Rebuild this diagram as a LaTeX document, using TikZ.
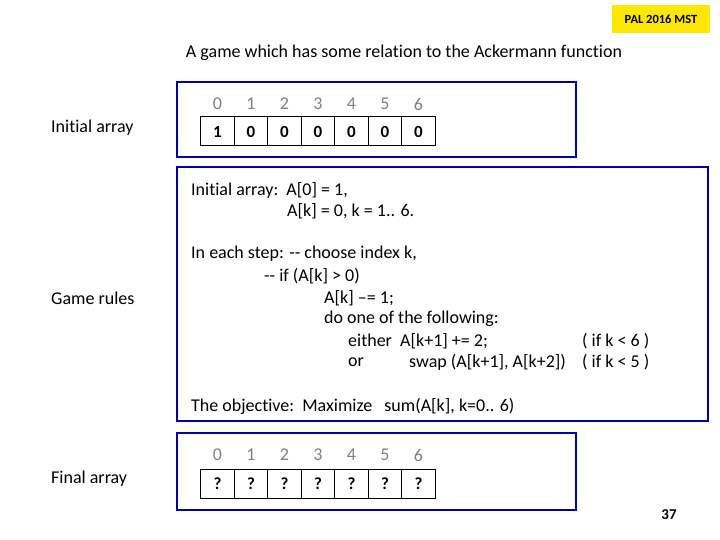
\documentclass[tikz,border=0pt]{standalone}
\usepackage{fontspec}
\setmainfont{Carlito}[Ligatures=NoCommon]
\begin{document}
\begin{tikzpicture}[x=1pt,y=-1pt,
  txt/.style={anchor=west,inner sep=0,yshift=-2pt,font=\fontsize{18}{20}\selectfont},
  frame/.style={draw=blue!70!black,line width=2.2pt},
  cell/.style={draw,line width=1pt,minimum width=33.5pt,minimum height=29pt,inner sep=0,font=\bfseries\fontsize{17}{20}\selectfont},
  idx/.style={text=gray,inner sep=0,font=\fontsize{18}{20}\selectfont}]
\useasboundingbox (0,0) rectangle (720,540);
\node[fill=yellow!90!orange,minimum width=98pt,minimum height=28pt,inner sep=0,font=\bfseries\fontsize{12.5}{14}\selectfont] (pal) at (661,19) {PAL 2016 MST};
\node[inner sep=0,yshift=-1pt,font=\fontsize{18}{20}\selectfont] (title) at (404,52) {A game which has some relation to the Ackermann function};
\draw[frame] (177,82) rectangle (576,157);
\draw[frame] (177,167) rectangle (708,421);
\draw[frame] (177,433) rectangle (576,510);
\foreach \i/\v in {0/1,1/0,2/0,3/0,4/0,5/0,6/0}{
  \node[idx] (ti\i) at (217.5+33.5*\i,104) {\i};
  \node[cell] (tc\i) at (217.5+33.5*\i,131.5) {\v};
  \node[idx] (bi\i) at (217.5+33.5*\i,455) {\i};
  \node[cell] (bc\i) at (217.5+33.5*\i,483.5) {?};
}
\node[txt] (l1) at (51,126) {Initial array};
\node[txt] (l2) at (51,296) {Game rules};
\node[txt] (l3) at (51,477) {Final array};
\node[txt] (a1) at (191,188) {Initial array:\ \ A[0] = 1,};
\node[txt] (a2) at (287,209) {A[k] = 0, k = 1.. 6.};
\node[txt] (s1) at (191,252) {In each step: -{}- choose index k,};
\node[txt] (s2) at (264,274) {-{}- if (A[k] > 0)};
\node[txt] (s3) at (324,296) {A[k] –= 1;};
\node[txt] (s4) at (324,317) {do one of the following:};
\node[txt] (s5) at (348,339) {either\ \ A[k+1] += 2;};
\node[txt] (s6) at (582,339) {( if k < 6 )};
\node[txt] (s7) at (348,360) {or};
\node[txt] (s8) at (409,360) {swap (A[k+1], A[k+2])};
\node[txt] (s9) at (582,360) {( if k < 5 )};
\node[txt] (o1) at (191,404) {The objective:\ \ Maximize\ \ \ sum(A[k], k=0.. 6)};
\node[inner sep=0,font=\bfseries\fontsize{15}{17}\selectfont] (pg) at (669,515) {37};
\end{tikzpicture}
\end{document}
